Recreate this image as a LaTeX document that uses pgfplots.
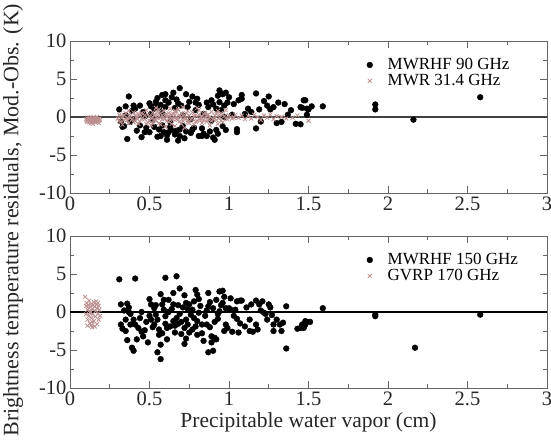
\documentclass[border=0pt]{standalone}
\usepackage{fontspec}
\setmainfont{Liberation Serif}
\usepackage{pgfplots}
\pgfplotsset{compat=1.18}
\definecolor{rosy}{RGB}{188,143,143}
\definecolor{framec}{RGB}{100,100,100}

\pgfplotsset{
  panel/.style={
    scale only axis, width=477pt, height=152pt,
    xmin=0, xmax=3, ymin=-10, ymax=10,
    xtick={0,0.5,1,1.5,2,2.5,3}, ytick={-10,-5,0,5,10},
    minor x tick num=1, minor y tick num=1,
    tick align=inside, major tick length=7pt, minor tick length=4pt,
    axis line style={framec, line width=0.8pt},
    every tick/.style={framec, line width=0.8pt},
    /pgf/number format/assume math mode=true,
    ticklabel style={font=\fontsize{20.5}{23}\selectfont, text=black!85},
    legend style={draw=none, fill=none, font=\fontsize{17}{18}\selectfont,
      at={(axis description cs:0.622,0.893)}, anchor=north west,
      row sep=1pt, column sep=15pt, inner sep=0pt,
      nodes={inner sep=0pt, text height=12pt, text depth=3pt}},
    legend cell align=left,
  },
  dots/.style={only marks, mark=*, mark size=2.9pt, black, mark options={fill=black}},
  crosses/.style={only marks, mark=x, mark size=2.8pt, rosy, mark options={line width=0.8pt}},
}

\begin{document}
\begin{tikzpicture}
\useasboundingbox (-70pt,-56pt) rectangle (481pt,388pt);

% ---------------- top panel ----------------
\begin{axis}[panel, at={(0,195pt)}, anchor=south west]
\addplot[forget plot, black!75, line width=1.2pt] coordinates {(0,0) (3,0)};
\addplot[dots] coordinates {
(0.31,1.0)(0.37,2.7)(0.35,1.4)(0.33,-1.3)(0.34,-1.2)(0.38,-0.65)(0.36,-2.9)(0.40,1.5)
(0.44,1.5)(0.42,-1.8)(0.45,-2.65)(0.48,-1.4)(0.46,0.65)(0.50,1.8)(0.51,1.4)(0.50,-2.0)
(0.53,-1.3)(0.51,0.4)(0.55,2.5)(0.54,1.5)(0.56,1.2)(0.56,-1.65)(0.57,-2.5)(0.60,3.0)
(0.60,2.2)(0.61,-3.0)(0.61,-2.4)(0.59,-2.0)(0.65,3.2)(0.69,3.8)(0.67,2.3)(0.68,1.8)
(0.64,-1.7)(0.67,-1.8)(0.69,-1.65)(0.72,-2.8)(0.73,3.0)(0.74,1.3)(0.76,-2.1)(0.77,-1.65)
(0.80,2.4)(0.79,0.9)(0.81,-2.5)(0.83,-2.5)(0.86,-2.5)(0.87,1.3)(0.90,1.65)(0.90,-2.7)
(0.91,-3.0)(0.92,-1.7)(0.94,3.5)(0.93,2.8)(0.96,3.0)(0.94,1.95)(0.97,1.5)(0.98,3.2)
(0.95,0.9)(0.98,-1.7)(1.00,2.6)(1.03,1.7)(1.05,-2.0)(1.05,-1.6)(1.08,2.4)(1.08,2.9)
(1.10,0.4)(1.14,0.65)(1.17,3.1)(1.17,-1.5)(1.19,1.0)(1.22,2.1)(1.24,1.5)(1.25,2.7)
(1.26,1.0)(1.28,1.3)(1.30,-0.8)(1.33,-0.65)(1.35,1.7)(1.37,0.3)(1.42,-0.9)(1.45,1.3)
(1.47,2.2)(1.49,1.1)(1.48,2.2)(1.46,1.2)(1.50,1.0)(1.49,0.3)(1.45,-0.95)(1.59,1.4)
(1.92,1.65)(1.92,1.0)(2.16,-0.35)(2.58,2.6)
(0.35,0.2)(0.40,-0.3)(0.47,0.1)(0.52,-0.4)(0.58,0.5)(0.63,-0.6)(0.71,0.2)(0.76,-0.3)
(0.84,0.4)(0.89,-0.5)(0.97,0.0)(1.02,0.3)
(0.53,1.1)(0.57,1.6)(0.62,1.9)(0.58,-1.1)(0.63,-1.3)(0.70,1.5)(0.75,2.0)(0.66,-2.3)
(0.71,-1.2)(0.78,-1.4)(0.81,1.6)(0.86,1.9)(0.88,-1.9)(0.92,1.1)(0.96,-1.2)(0.44,-1.1)
(0.39,0.8)(0.55,-2.6)(0.60,1.3)(0.64,2.6)(0.69,-2.5)(0.77,2.7)(0.83,-1.5)
(0.32,-0.6)(0.41,1.1)(0.47,-2.0)(0.54,2.0)(0.58,2.9)(0.62,-2.0)(0.66,1.2)(0.68,-3.1)
(0.73,-1.9)(0.79,1.9)(0.84,-2.2)(0.89,2.2)(0.93,-2.2)(0.99,1.9)(1.06,2.2)(1.12,1.1)
(1.20,-0.6)(1.31,1.9)(1.39,0.9)(1.52,1.4)
};
\addlegendentry{MWRHF 90 GHz}
\addplot[crosses] coordinates {
(0.10,-0.3)(0.105,-0.5)(0.11,-0.2)(0.11,-0.6)(0.115,-0.4)(0.12,-0.1)(0.12,-0.7)(0.125,-0.3)
(0.13,-0.5)(0.13,0.0)(0.135,-0.8)(0.14,-0.2)(0.14,-0.4)(0.145,-0.6)(0.15,-0.3)(0.15,-0.1)
(0.155,-0.5)(0.16,-0.7)(0.16,-0.2)(0.165,-0.4)(0.17,-0.6)(0.17,0.0)(0.175,-0.3)(0.18,-0.5)
(0.18,-0.8)(0.185,-0.2)(0.19,-0.4)(0.145,-0.9)(0.125,-0.6)(0.165,-0.1)
(0.30,-0.2)(0.31,0.3)(0.32,-0.6)(0.33,0.1)(0.34,-0.4)(0.35,0.5)(0.36,-0.1)(0.37,-0.8)
(0.38,0.2)(0.39,-0.3)(0.40,0.6)(0.41,-0.5)(0.42,0.0)(0.43,-0.9)(0.44,0.3)(0.45,-0.2)
(0.33,-1.0)(0.37,0.8)(0.42,-0.2)(0.44,-0.6)
(0.46,0.4)(0.47,-0.3)(0.48,0.9)(0.49,-0.7)(0.50,0.1)(0.51,-1.1)(0.52,0.6)(0.53,-0.4)
(0.54,1.2)(0.55,-0.1)(0.56,-0.8)(0.57,0.5)(0.58,-0.3)(0.59,0.8)(0.60,-1.3)(0.50,-0.5)
(0.52,0.0)(0.55,0.3)(0.57,-1.0)(0.59,-0.2)(0.48,-0.9)(0.53,0.2)(0.56,1.0)(0.60,0.3)
(0.61,0.0)(0.62,-0.6)(0.63,1.1)(0.64,-0.2)(0.65,0.4)(0.66,-1.2)(0.67,0.7)(0.68,-0.4)
(0.69,0.1)(0.70,-0.9)(0.71,1.3)(0.72,-0.1)(0.73,0.5)(0.74,-0.7)(0.75,0.2)(0.62,0.5)
(0.64,-0.9)(0.66,0.2)(0.68,1.0)(0.70,0.0)(0.72,-1.4)(0.74,0.8)(0.63,-0.4)(0.67,-0.3)
(0.71,-0.5)(0.73,-0.2)
(0.76,-0.3)(0.77,0.6)(0.78,-1.0)(0.79,0.2)(0.80,-0.5)(0.81,0.9)(0.82,-0.2)(0.83,-0.8)
(0.84,0.4)(0.85,-0.1)(0.86,-0.6)(0.87,0.3)(0.88,-1.1)(0.89,0.7)(0.90,-0.3)(0.78,0.1)
(0.80,1.2)(0.82,-0.4)(0.85,0.5)(0.88,0.0)
(0.91,0.2)(0.92,-0.4)(0.93,0.8)(0.94,-0.1)(0.95,0.5)(0.96,-0.7)(0.97,0.1)(0.98,0.9)
(0.99,-0.3)(1.00,0.2)(1.02,-0.2)(1.04,0.3)(0.93,-0.9)(0.96,0.3)
(1.06,-0.1)(1.08,0.2)(1.10,-0.3)(1.12,0.1)(1.14,-0.2)(1.16,0.3)(1.18,0.0)(1.20,-0.4)
(1.22,0.2)(1.24,-0.1)(1.26,0.3)(1.28,-0.3)(1.30,0.1)(1.33,0.0)(1.36,-0.2)(1.40,-0.1)
(1.43,0.2)(1.50,-0.5)
(0.31,-0.5)(0.34,0.2)(0.36,-0.4)(0.38,-0.1)(0.40,-0.7)(0.41,0.2)(0.43,0.4)(0.45,0.5)
(0.47,0.2)(0.49,0.3)(0.51,-0.2)(0.52,-0.8)(0.54,-0.5)(0.55,0.7)(0.57,-0.1)(0.58,0.2)
(0.61,-0.5)(0.62,0.1)(0.64,0.3)(0.65,-0.3)(0.66,0.8)(0.67,0.0)(0.69,-0.6)(0.70,0.5)
(0.72,0.3)(0.74,-0.4)(0.75,-0.8)(0.77,-0.2)(0.79,-0.6)(0.81,0.3)(0.83,0.1)(0.84,-0.4)
(0.86,0.2)(0.87,-0.3)(0.89,-0.5)(0.91,-0.2)(0.92,0.4)(0.94,0.3)(0.95,-0.5)(0.98,-0.1)
(1.01,0.0)(1.03,-0.1)
};
\addlegendentry{MWR 31.4 GHz}
\end{axis}

% ---------------- bottom panel ----------------
\begin{axis}[panel, at={(0,0)}, anchor=south west,
  xlabel={Precipitable water vapor (cm)},
  xlabel style={font=\fontsize{21.5}{24}\selectfont, text=black!85}]
\addplot[forget plot, black, line width=1.2pt] coordinates {(0,0) (3,0)};
\addplot[dots] coordinates {
(0.31,4.3)(0.41,4.4)(0.60,4.5)(0.67,4.7)(0.32,1.0)(0.36,1.1)(0.37,0.6)(0.34,0.2)
(0.35,-1.0)(0.32,-1.65)(0.33,-2.2)(0.38,-1.65)(0.41,-1.65)(0.38,-0.25)(0.44,-0.8)(0.45,0.0)
(0.36,-3.7)(0.42,-3.6)(0.39,-4.7)(0.40,-5.1)(0.45,-2.6)(0.47,-2.4)(0.49,-4.0)(0.50,1.7)
(0.51,1.0)(0.53,0.5)(0.54,-0.35)(0.51,-1.0)(0.53,-1.65)(0.55,-1.0)(0.56,-3.0)(0.57,2.35)
(0.58,1.0)(0.59,0.3)(0.57,-4.3)(0.55,-5.3)(0.57,-6.2)(0.60,-0.55)(0.60,-1.55)(0.61,-2.1)
(0.62,0.0)(0.65,1.0)(0.65,2.5)(0.65,-1.2)(0.66,-2.7)(0.68,-1.55)(0.69,3.1)(0.69,-0.25)
(0.71,0.6)(0.72,-2.1)(0.72,-4.2)(0.73,1.2)(0.73,-1.0)(0.74,-1.65)(0.75,-2.7)(0.76,-0.35)
(0.77,0.3)(0.78,1.4)(0.79,2.9)(0.80,2.3)(0.79,-1.9)(0.80,-1.2)(0.81,-0.1)(0.83,-1.65)
(0.84,-3.8)(0.86,-1.65)(0.87,2.5)(0.87,0.75)(0.87,-5.3)(0.90,-5.1)(0.89,-4.0)(0.89,-3.2)
(0.91,-3.4)(0.92,-3.6)(0.90,0.5)(0.92,1.6)(0.93,-0.25)(0.94,2.7)(0.96,2.8)(0.96,1.2)
(0.97,2.0)(0.98,0.5)(0.98,-1.65)(0.99,-2.1)(1.00,0.5)(1.01,0.3)(1.02,-2.6)(1.04,0.3)
(1.05,1.4)(1.06,-2.7)(1.07,1.5)(1.08,1.5)(1.07,-1.5)(1.13,-2.5)(1.13,-1.0)(1.14,1.0)
(1.17,1.5)(1.17,-1.65)(1.19,1.0)(1.20,0.2)(1.22,-0.1)(1.23,-0.25)(1.24,-1.0)(1.25,1.0)
(1.26,0.6)(1.28,-1.65)(1.28,-2.5)(1.30,-1.0)(1.32,-1.65)(1.33,-2.5)(1.36,0.75)(1.36,-4.8)
(1.43,-2.2)(1.46,-1.65)(1.48,-1.2)
(1.45,-2.1)(1.48,-1.65)(1.49,-1.3)(1.51,-1.3)(1.47,-2.1)(1.59,0.5)(1.92,-0.55)(1.92,-0.35)
(2.17,-4.7)(2.58,-0.35)
(0.52,-2.0)(0.58,-2.8)(0.63,-1.9)(0.67,-0.8)(0.70,-1.3)(0.74,0.4)(0.77,-2.3)(0.82,0.8)
(0.85,-0.5)(0.88,-2.0)(0.93,-0.9)(0.95,0.9)(1.03,-0.5)(1.10,-1.9)(1.15,-2.6)(0.48,-1.3)
(0.43,-2.1)(0.62,1.6)(0.72,2.2)(0.80,-3.0)
(0.35,-2.5)(0.37,0.0)(0.40,-1.0)(0.46,-3.2)(0.50,-0.5)(0.54,0.9)(0.56,-2.3)(0.59,1.6)
(0.61,-3.6)(0.64,0.4)(0.66,-1.8)(0.68,0.9)(0.70,-2.9)(0.73,-3.5)(0.75,1.0)(0.78,-0.8)
(0.81,1.7)(0.83,-2.8)(0.86,0.2)(0.88,1.3)(0.91,-1.3)(0.94,0.1)(0.97,-2.5)(1.01,1.8)
(1.05,-0.9)(1.11,0.6)(1.18,-2.3)(1.21,1.4)(1.27,-0.4)(1.34,-1.4)
};
\addlegendentry{MWRHF 150 GHz}
\addplot[crosses] coordinates {
(0.095,2.0)(0.10,0.8)(0.10,-0.3)(0.105,1.2)(0.11,0.3)(0.11,-1.0)(0.115,0.9)(0.12,-0.5)
(0.12,0.5)(0.125,-1.5)(0.13,0.0)(0.13,1.0)(0.135,-0.8)(0.14,0.4)(0.14,-2.0)(0.145,-0.3)
(0.15,1.3)(0.15,-1.2)(0.155,0.7)(0.16,-0.6)(0.16,0.1)(0.165,1.0)(0.17,-1.6)(0.17,0.5)
(0.175,-0.2)(0.18,0.8)(0.18,-1.0)(0.185,0.3)(0.19,-0.5)(0.12,1.5)(0.135,-1.7)(0.155,-1.9)
(0.165,1.4)(0.11,-1.8)(0.145,0.9)(0.175,1.2)(0.125,-0.1)(0.14,-1.3)
};
\addlegendentry{GVRP 170 GHz}
\end{axis}

\node[rotate=90, font=\fontsize{22}{25}\selectfont, text=black!85] at (-57pt,168pt)
  {Brightness temperature residuals, Mod.-Obs. (K)};
\end{tikzpicture}
\end{document}
